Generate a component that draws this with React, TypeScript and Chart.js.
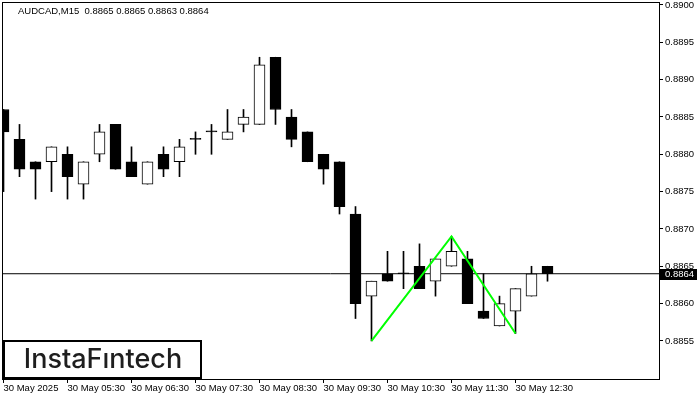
import React, { useEffect, useRef } from 'react';
import { Chart, registerables } from 'chart.js';

Chart.register(...registerables);

const symbol = 'AUDCAD';
const timeframe = 'M15';

// 15-minute bars from 30 May 2025 04:30 to 13:00
const barIndex = Array.from({ length: 35 }, (_, i) => i);

const open = [
  0.8886, 0.8882, 0.8879, 0.8879, 0.8880, 0.8876, 0.8880, 0.8884, 0.8879, 0.8876,
  0.8880, 0.8879, 0.8882, 0.8883, 0.8882, 0.8884, 0.8884, 0.8893, 0.8885, 0.8883,
  0.8880, 0.8879, 0.8872, 0.8861, 0.8864, 0.8864, 0.8865, 0.8863, 0.8865, 0.8866,
  0.8859, 0.8857, 0.8859, 0.8861, 0.8865,
];
const high = [
  0.8886, 0.8884, 0.8879, 0.8881, 0.8881, 0.8879, 0.8884, 0.8884, 0.8881, 0.8879,
  0.8881, 0.8882, 0.8883, 0.8884, 0.8886, 0.8886, 0.8893, 0.8893, 0.8886, 0.8883,
  0.8880, 0.8879, 0.8873, 0.8863, 0.8867, 0.8867, 0.8868, 0.8866, 0.8869, 0.8867,
  0.8864, 0.8861, 0.8862, 0.8865, 0.8865,
];
const low = [
  0.8875, 0.8877, 0.8874, 0.8875, 0.8874, 0.8874, 0.8879, 0.8878, 0.8877, 0.8876,
  0.8877, 0.8877, 0.8880, 0.8880, 0.8882, 0.8883, 0.8884, 0.8884, 0.8881, 0.8879,
  0.8876, 0.8872, 0.8858, 0.8855, 0.8863, 0.8862, 0.8862, 0.8861, 0.8865, 0.8860,
  0.8858, 0.8857, 0.8856, 0.8861, 0.8863,
];
const close = [
  0.8883, 0.8878, 0.8878, 0.8881, 0.8877, 0.8879, 0.8883, 0.8878, 0.8877, 0.8879,
  0.8878, 0.8881, 0.8882, 0.8883, 0.8883, 0.8885, 0.8892, 0.8886, 0.8882, 0.8879,
  0.8878, 0.8873, 0.8860, 0.8863, 0.8863, 0.8864, 0.8862, 0.8866, 0.8867, 0.8860,
  0.8858, 0.8860, 0.8862, 0.8864, 0.8864,
];

// Double bottom pattern line (bar index, price)
const patternX = [23, 28, 32];
const patternY = [0.8855, 0.8869, 0.8856];

const xTickIdx = [0, 4, 8, 12, 16, 20, 24, 28, 32];
const xTickLabels = [
  '30 May 2025', '30 May 05:30', '30 May 06:30', '30 May 07:30', '30 May 08:30',
  '30 May 09:30', '30 May 10:30', '30 May 11:30', '30 May 12:30',
];
const yTicks = [0.8855, 0.8860, 0.8865, 0.8870, 0.8875, 0.8880, 0.8885, 0.8890, 0.8895, 0.8900];

const X_MIN = -0.09375;
const X_MAX = 40.96875;
const Y_MIN = 0.88499;
const Y_MAX = 0.89004;

const FONT = 'Liberation Sans, Arial, sans-serif';

export default function App() {
  const ref = useRef<HTMLCanvasElement | null>(null);

  useEffect(() => {
    document.body.style.margin = '0';
    const canvas = ref.current;
    if (!canvas) return;
    const last = close.length - 1;

    const overlay = {
      id: 'mtOverlay',
      afterDraw(chart: any) {
        const { ctx, chartArea } = chart;
        const ys = chart.scales.y;
        ctx.save();
        // frame
        ctx.strokeStyle = '#000';
        ctx.lineWidth = 1;
        ctx.strokeRect(
          Math.round(chartArea.left) + 0.5,
          Math.round(chartArea.top) + 0.5,
          Math.round(chartArea.right - chartArea.left),
          Math.round(chartArea.bottom - chartArea.top)
        );
        // title
        ctx.fillStyle = '#000';
        ctx.font = `9.5px ${FONT}`;
        ctx.textAlign = 'left';
        ctx.textBaseline = 'middle';
        const title = `${symbol},${timeframe}  ${open[last].toFixed(4)} ${high[last].toFixed(4)} ${low[last].toFixed(4)} ${close[last].toFixed(4)}`;
        ctx.fillText(title, chartArea.left + 16, chartArea.top + 9);
        // current price label
        const py = ys.getPixelForValue(close[last]);
        ctx.fillStyle = '#000';
        ctx.fillRect(chartArea.right + 1, Math.round(py) - 5, 37, 11);
        ctx.fillStyle = '#fff';
        ctx.fillText(close[last].toFixed(4), chartArea.right + 6, Math.round(py) + 0.5);
        // logo
        const bx = chartArea.left + 2;
        const by = chartArea.bottom - 38;
        ctx.fillStyle = '#fff';
        ctx.fillRect(bx, by, 197, 37);
        ctx.strokeStyle = '#000';
        ctx.lineWidth = 2;
        ctx.strokeRect(bx, by, 197, 37);
        ctx.fillStyle = '#1e1e1e';
        ctx.font = `500 27px Inter, Lato, sans-serif`;
        ctx.textAlign = 'center';
        ctx.textBaseline = 'middle';
        ctx.fillText('InstaF\u0131ntech', bx + 99, by + 19);
        ctx.restore();
      },
    };

    const chart = new Chart(canvas, {
      type: 'bar',
      data: {
        datasets: [
          {
            type: 'line',
            label: 'pattern',
            data: patternX.map((x, k) => ({ x, y: patternY[k] })),
            borderColor: '#00ff00',
            borderWidth: 2,
            pointRadius: 0,
            tension: 0,
            order: 0,
          } as any,
          {
            type: 'bar',
            label: 'body',
            data: barIndex.map((i) => ({ x: i, y: [open[i], close[i]] })),
            backgroundColor: barIndex.map((i) => (close[i] > open[i] ? '#ffffff' : '#000000')),
            borderColor: '#000000',
            borderWidth: 1,
            borderSkipped: false,
            barThickness: 11,
            grouped: false,
            minBarLength: 1,
            order: 1,
          } as any,
          {
            type: 'bar',
            label: 'wick',
            data: barIndex.map((i) => ({ x: i, y: [low[i], high[i]] })),
            backgroundColor: '#000000',
            borderWidth: 0,
            barThickness: 1,
            grouped: false,
            order: 2,
          } as any,
          {
            type: 'line',
            label: 'price',
            data: [
              { x: X_MIN, y: close[last] },
              { x: X_MAX, y: close[last] },
            ],
            borderColor: '#000000',
            borderWidth: 1,
            pointRadius: 0,
            order: 3,
          } as any,
        ],
      },
      options: {
        animation: false,
        responsive: false,
        events: [],
        layout: { padding: { left: 2, top: 2, right: 0, bottom: 0 } },
        plugins: { legend: { display: false }, tooltip: { enabled: false } },
        scales: {
          x: {
            type: 'linear',
            min: X_MIN,
            max: X_MAX,
            offset: false,
            border: { display: false },
            grid: { drawOnChartArea: false, drawTicks: true, tickLength: 4, color: '#000', offset: false },
            afterBuildTicks: (scale: any) => {
              scale.ticks = xTickIdx.map((v) => ({ value: v }));
            },
            afterFit: (scale: any) => {
              scale.height = 21;
              scale.paddingLeft = 0;
              scale.paddingRight = 0;
            },
            ticks: {
              autoSkip: false,
              maxRotation: 0,
              minRotation: 0,
              align: 'start',
              padding: 0,
              color: '#000',
              font: { family: FONT, size: 9.5 },
              callback: (v: any) => {
                const k = xTickIdx.indexOf(Number(v));
                return k >= 0 ? xTickLabels[k] : '';
              },
            },
          } as any,
          y: {
            type: 'linear',
            position: 'right',
            min: Y_MIN,
            max: Y_MAX,
            beginAtZero: false,
            border: { display: false },
            grid: { drawOnChartArea: false, drawTicks: true, tickLength: 4, color: '#000' },
            afterBuildTicks: (scale: any) => {
              scale.ticks = yTicks.map((v) => ({ value: v }));
            },
            afterFit: (scale: any) => {
              scale.width = 41;
              scale.paddingTop = 0;
              scale.paddingBottom = 0;
            },
            ticks: {
              padding: 2,
              color: '#000',
              font: { family: FONT, size: 9.5 },
              callback: (v: any) => Number(v).toFixed(4),
            },
          } as any,
        },
      },
      plugins: [overlay],
    });

    return () => chart.destroy();
  }, []);

  return (
    <div style={{ width: 700, height: 400, background: '#fff' }}>
      <canvas ref={ref} width={700} height={400} style={{ display: 'block' }} />
    </div>
  );
}
